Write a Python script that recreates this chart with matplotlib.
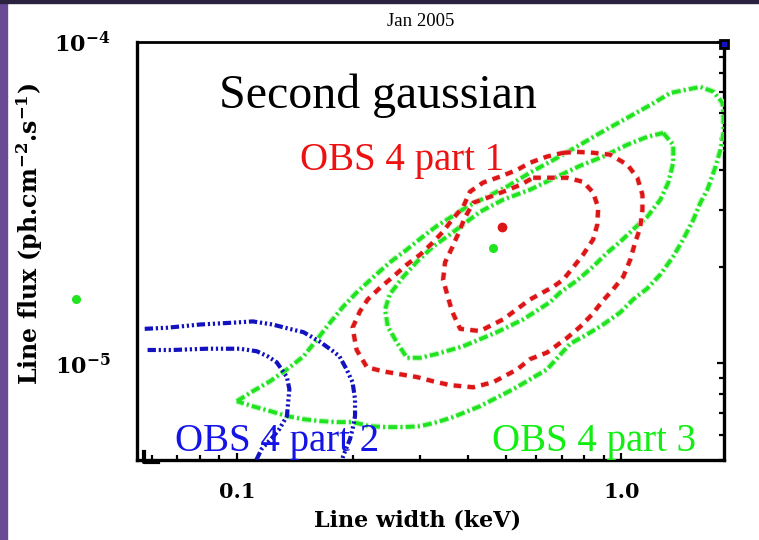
import matplotlib
matplotlib.use('Agg')
import matplotlib.pyplot as plt
import matplotlib.patheffects as pe
from matplotlib.patches import Rectangle
from matplotlib.lines import Line2D
from matplotlib.ticker import FixedLocator, LogLocator, NullFormatter
import numpy as np

plt.rcParams['lines.scale_dashes'] = False
plt.rcParams['mathtext.fontset'] = 'dejavuserif'

FLUX_UNIT = 1e-5  # flux values below are in units of 1e-5 ph/cm2/s

# OBS 4 part 1 (red) confidence contours: line width (keV), line flux (1e-5)
red_inner_w = [0.590, 0.653, 0.723, 0.796, 0.845, 0.871, 0.866, 0.845, 0.796, 0.750,
               0.706, 0.665, 0.579, 0.493, 0.429, 0.381, 0.363, 0.354, 0.344, 0.348,
               0.363, 0.376, 0.392, 0.412, 0.450, 0.493, 0.546, 0.590]
red_inner_f = [3.78, 3.78, 3.78, 3.67, 3.40, 3.05, 2.70, 2.43, 2.18, 1.99,
               1.82, 1.73, 1.58, 1.37, 1.26, 1.28, 1.45, 1.61, 1.82, 2.06,
               2.29, 2.52, 2.84, 3.16, 3.28, 3.42, 3.59, 3.78]
red_outer_w = [0.706, 0.767, 0.845, 0.936, 1.037, 1.101, 1.135, 1.135, 1.120, 1.087,
               1.055, 1.012, 0.953, 0.893, 0.840, 0.782, 0.723, 0.641, 0.579, 0.536,
               0.464, 0.412, 0.359, 0.324, 0.294, 0.265, 0.240, 0.218, 0.205, 0.200,
               0.209, 0.219, 0.236, 0.255, 0.277, 0.300, 0.324, 0.344, 0.363, 0.388,
               0.404, 0.437, 0.484, 0.536, 0.579, 0.641, 0.706]
red_outer_f = [4.52, 4.55, 4.52, 4.46, 4.15, 3.78, 3.35, 3.01, 2.64, 2.38,
               2.10, 1.86, 1.70, 1.56, 1.42, 1.30, 1.20, 1.08, 1.03, 0.957,
               0.873, 0.842, 0.855, 0.879, 0.906, 0.925, 0.944, 0.972, 1.10, 1.29,
               1.45, 1.58, 1.72, 1.86, 2.03, 2.18, 2.38, 2.57, 2.80, 3.07,
               3.42, 3.65, 3.81, 4.00, 4.21, 4.40, 4.52]

# OBS 4 part 3 (green) confidence contours
green_mid_w = [1.285, 1.365, 1.365, 1.325, 1.264, 1.169, 1.074, 0.994, 0.920, 0.845,
               0.767, 0.693, 0.653, 0.556, 0.475, 0.388, 0.332, 0.300, 0.277, 0.261,
               0.247, 0.243, 0.250, 0.271, 0.294, 0.324, 0.359, 0.381, 0.429, 0.493,
               0.579, 0.681, 0.782, 0.897, 1.037, 1.169, 1.285]
green_mid_f = [5.21, 4.79, 4.21, 3.65, 3.23, 2.86, 2.61, 2.39, 2.21, 2.00,
               1.81, 1.66, 1.55, 1.37, 1.25, 1.13, 1.07, 1.04, 1.04, 1.16,
               1.30, 1.47, 1.64, 1.86, 2.07, 2.31, 2.52, 2.66, 2.96, 3.23,
               3.47, 3.81, 4.12, 4.40, 4.79, 5.07, 5.21]
green_out_w = [0.100, 0.110, 0.122, 0.135, 0.149, 0.162, 0.175, 0.189, 0.205, 0.226,
               0.250, 0.277, 0.305, 0.332, 0.359, 0.397, 0.448, 0.505, 0.579, 0.681,
               0.782, 0.881, 1.037, 1.191, 1.342, 1.606, 1.738, 1.832, 1.844, 1.844,
               1.811, 1.758, 1.675, 1.606, 1.540, 1.449, 1.365, 1.264, 1.169, 1.074,
               0.994, 0.897, 0.815, 0.736, 0.641, 0.523, 0.429, 0.365, 0.332, 0.300,
               0.271, 0.246, 0.222, 0.200, 0.182, 0.164, 0.149, 0.135, 0.122, 0.110,
               0.100]
green_out_f = [0.762, 0.818, 0.879, 0.957, 1.05, 1.19, 1.34, 1.50, 1.66, 1.85,
               2.06, 2.26, 2.48, 2.68, 2.84, 3.07, 3.30, 3.55, 3.92, 4.36,
               4.79, 5.21, 5.81, 6.37, 6.94, 7.25, 7.00, 6.47, 5.81, 5.21,
               4.62, 4.09, 3.47, 3.16, 2.80, 2.43, 2.15, 1.89, 1.71, 1.58,
               1.44, 1.32, 1.23, 1.15, 0.957, 0.830, 0.735, 0.680, 0.656, 0.637,
               0.633, 0.633, 0.637, 0.656, 0.656, 0.661, 0.670, 0.685, 0.710, 0.735,
               0.762]

# OBS 4 part 2 (blue) confidence contours (open, cut by the axes)
blue_out_w = [0.0576, 0.0658, 0.0801, 0.100, 0.110, 0.124, 0.137, 0.149, 0.164, 0.178,
              0.185, 0.193, 0.200, 0.203, 0.203, 0.200, 0.197, 0.189, 0.187]
blue_out_f = [1.28, 1.29, 1.32, 1.34, 1.35, 1.32, 1.28, 1.25, 1.17, 1.09,
              1.05, 0.957, 0.873, 0.773, 0.685, 0.624, 0.581, 0.514, 0.485]
blue_in_w = [0.0586, 0.0681, 0.0835, 0.1018, 0.1127, 0.1205, 0.127, 0.135, 0.137, 0.136,
             0.135, 0.129, 0.124, 0.116, 0.111]
blue_in_f = [1.10, 1.10, 1.11, 1.11, 1.09, 1.05, 1.007, 0.906, 0.830, 0.757,
             0.685, 0.624, 0.589, 0.541, 0.485]

# best-fit points
best_w = {'red': 0.490, 'green': 0.464, 'green_out': 0.0381, 'blue': 1.85}
best_f = {'red': 2.66, 'green': 2.29, 'green_out': 1.58, 'blue': 9.85}

labels_text = ['OBS 4 part 1', 'OBS 4 part 2', 'OBS 4 part 3']
xtick_vals = [0.1, 1.0]
xtick_labels = ['0.1', '1.0']
ytick_vals = [1e-5, 1e-4]
ytick_labels = [r'$\mathbf{10^{-5}}$', r'$\mathbf{10^{-4}}$']

RED = '#dc1616'
GREEN = '#1fe41f'
BLUE = '#1212c0'

fig = plt.figure(figsize=(7.59, 5.40), dpi=100)
fig.patches.append(Rectangle((0, 0), 7 / 759, 1, transform=fig.transFigure,
                             color='#6a4a94', zorder=0))
fig.patches.append(Rectangle((0, 1 - 2.5 / 540), 1, 2.5 / 540, transform=fig.transFigure,
                             color='#2b2240', zorder=0))

ax = fig.add_axes([137 / 759, 1 - 460 / 540, 587 / 759, 418 / 540])
ax.set_xscale('log')
ax.set_yscale('log')
ax.set_xlim(0.055, 1.85)
ax.set_ylim(5.0e-6, 1.0e-4)

halo = [pe.Stroke(linewidth=4.6, foreground='#c9f7c9'), pe.Normal()]
green_dash = (0, (6.5, 2.2, 1.6, 2.2))
for w, f in [(green_out_w, green_out_f), (green_mid_w, green_mid_f)]:
    ln, = ax.plot(w, np.array(f) * FLUX_UNIT, color=GREEN, lw=2.8, linestyle=green_dash,
                  zorder=3)
    ln.set_path_effects(halo)

red_dash = (0, (5.5, 4.5))
for w, f in [(red_outer_w, red_outer_f), (red_inner_w, red_inner_f)]:
    ln, = ax.plot(w, np.array(f) * FLUX_UNIT, color=RED, lw=3.0, linestyle=red_dash,
                  zorder=4)
    ln.set_path_effects([pe.Stroke(linewidth=4.0, foreground='#f7c9c9'), pe.Normal()])

blue_dash = (0, (6.0, 2.0, 1.6, 2.0, 1.6, 2.0, 1.6, 2.0))
for w, f in [(blue_out_w, blue_out_f), (blue_in_w, blue_in_f)]:
    ax.plot(w, np.array(f) * FLUX_UNIT, color=BLUE, lw=3.0, linestyle=blue_dash, zorder=5)

ax.plot(best_w['red'], best_f['red'] * FLUX_UNIT, 'o', color=RED, ms=6, zorder=6)
ax.plot(best_w['green'], best_f['green'] * FLUX_UNIT, 'o', color=GREEN, ms=5.5, zorder=6)
ax.plot(best_w['green_out'], best_f['green_out'] * FLUX_UNIT, 'o', color=GREEN, ms=5.5,
        zorder=6, clip_on=False)
ax.plot(best_w['blue'], best_f['blue'] * FLUX_UNIT, 's', color=BLUE, mec='black', mew=2,
        ms=6, zorder=6, clip_on=False)

serif = 'Liberation Serif'
ax.text(0.4106, 0.842, 'Second gaussian', transform=ax.transAxes, ha='center',
        va='baseline', fontsize=34.5, family=serif, color='black', zorder=7)
ax.text(0.4515, 0.694, labels_text[0], transform=ax.transAxes, ha='center',
        va='baseline', fontsize=28, family=serif, color='#ee1111', zorder=7)
ax.text(0.2385, 0.022, labels_text[1], transform=ax.transAxes, ha='center',
        va='baseline', fontsize=28, family=serif, color='#1414e6', zorder=7)
ax.text(0.778, 0.022, labels_text[2], transform=ax.transAxes, ha='center',
        va='baseline', fontsize=28, family=serif, color='#11ee11', zorder=7)
fig.text(421 / 759, 1 - 21 / 540, 'Jan 2005', ha='center', va='center', fontsize=13.5,
         family=serif)

for s in ax.spines.values():
    s.set_linewidth(2.4)
    s.set_color('black')
ax.spines['top'].set_linewidth(2.0)

# small corner mark at lower left of the frame
ax.add_line(Line2D([0.012, 0.012, 0.035], [0.02, -0.004, -0.004], transform=ax.transAxes,
                   color='black', lw=3.0, clip_on=False, zorder=8))

ax.xaxis.set_major_locator(FixedLocator(xtick_vals))
ax.set_xticklabels(xtick_labels)
ax.yaxis.set_major_locator(FixedLocator(ytick_vals))
ax.set_yticklabels(ytick_labels)
ax.xaxis.set_minor_locator(LogLocator(base=10, subs=np.arange(2, 10)))
ax.yaxis.set_minor_locator(LogLocator(base=10, subs=np.arange(2, 10)))
ax.xaxis.set_minor_formatter(NullFormatter())
ax.yaxis.set_minor_formatter(NullFormatter())
ax.tick_params(which='both', direction='in', bottom=True, right=True, left=False, top=False,
               width=1.6, color='black')
ax.tick_params(which='major', length=5)
ax.tick_params(which='minor', length=3.5)
ax.tick_params(axis='x', which='major', pad=16, labelsize=15)
ax.tick_params(axis='y', which='major', pad=19, labelsize=16)
for lab in ax.get_xticklabels():
    lab.set_family('DejaVu Serif')
    lab.set_fontweight('bold')

fig.text(30 / 759, 1 - 234 / 540, r'Line flux (ph.cm$^{\mathbf{-2}}$.s$^{\mathbf{-1}}$)',
         rotation=90, ha='center', va='center', fontsize=17, fontweight='bold',
         family='DejaVu Serif')
fig.text(418 / 759, 1 - 521 / 540, 'Line width (keV)', ha='center', va='center',
         fontsize=16, fontweight='bold', family='DejaVu Serif')

fig.savefig('out.png', dpi=100)
